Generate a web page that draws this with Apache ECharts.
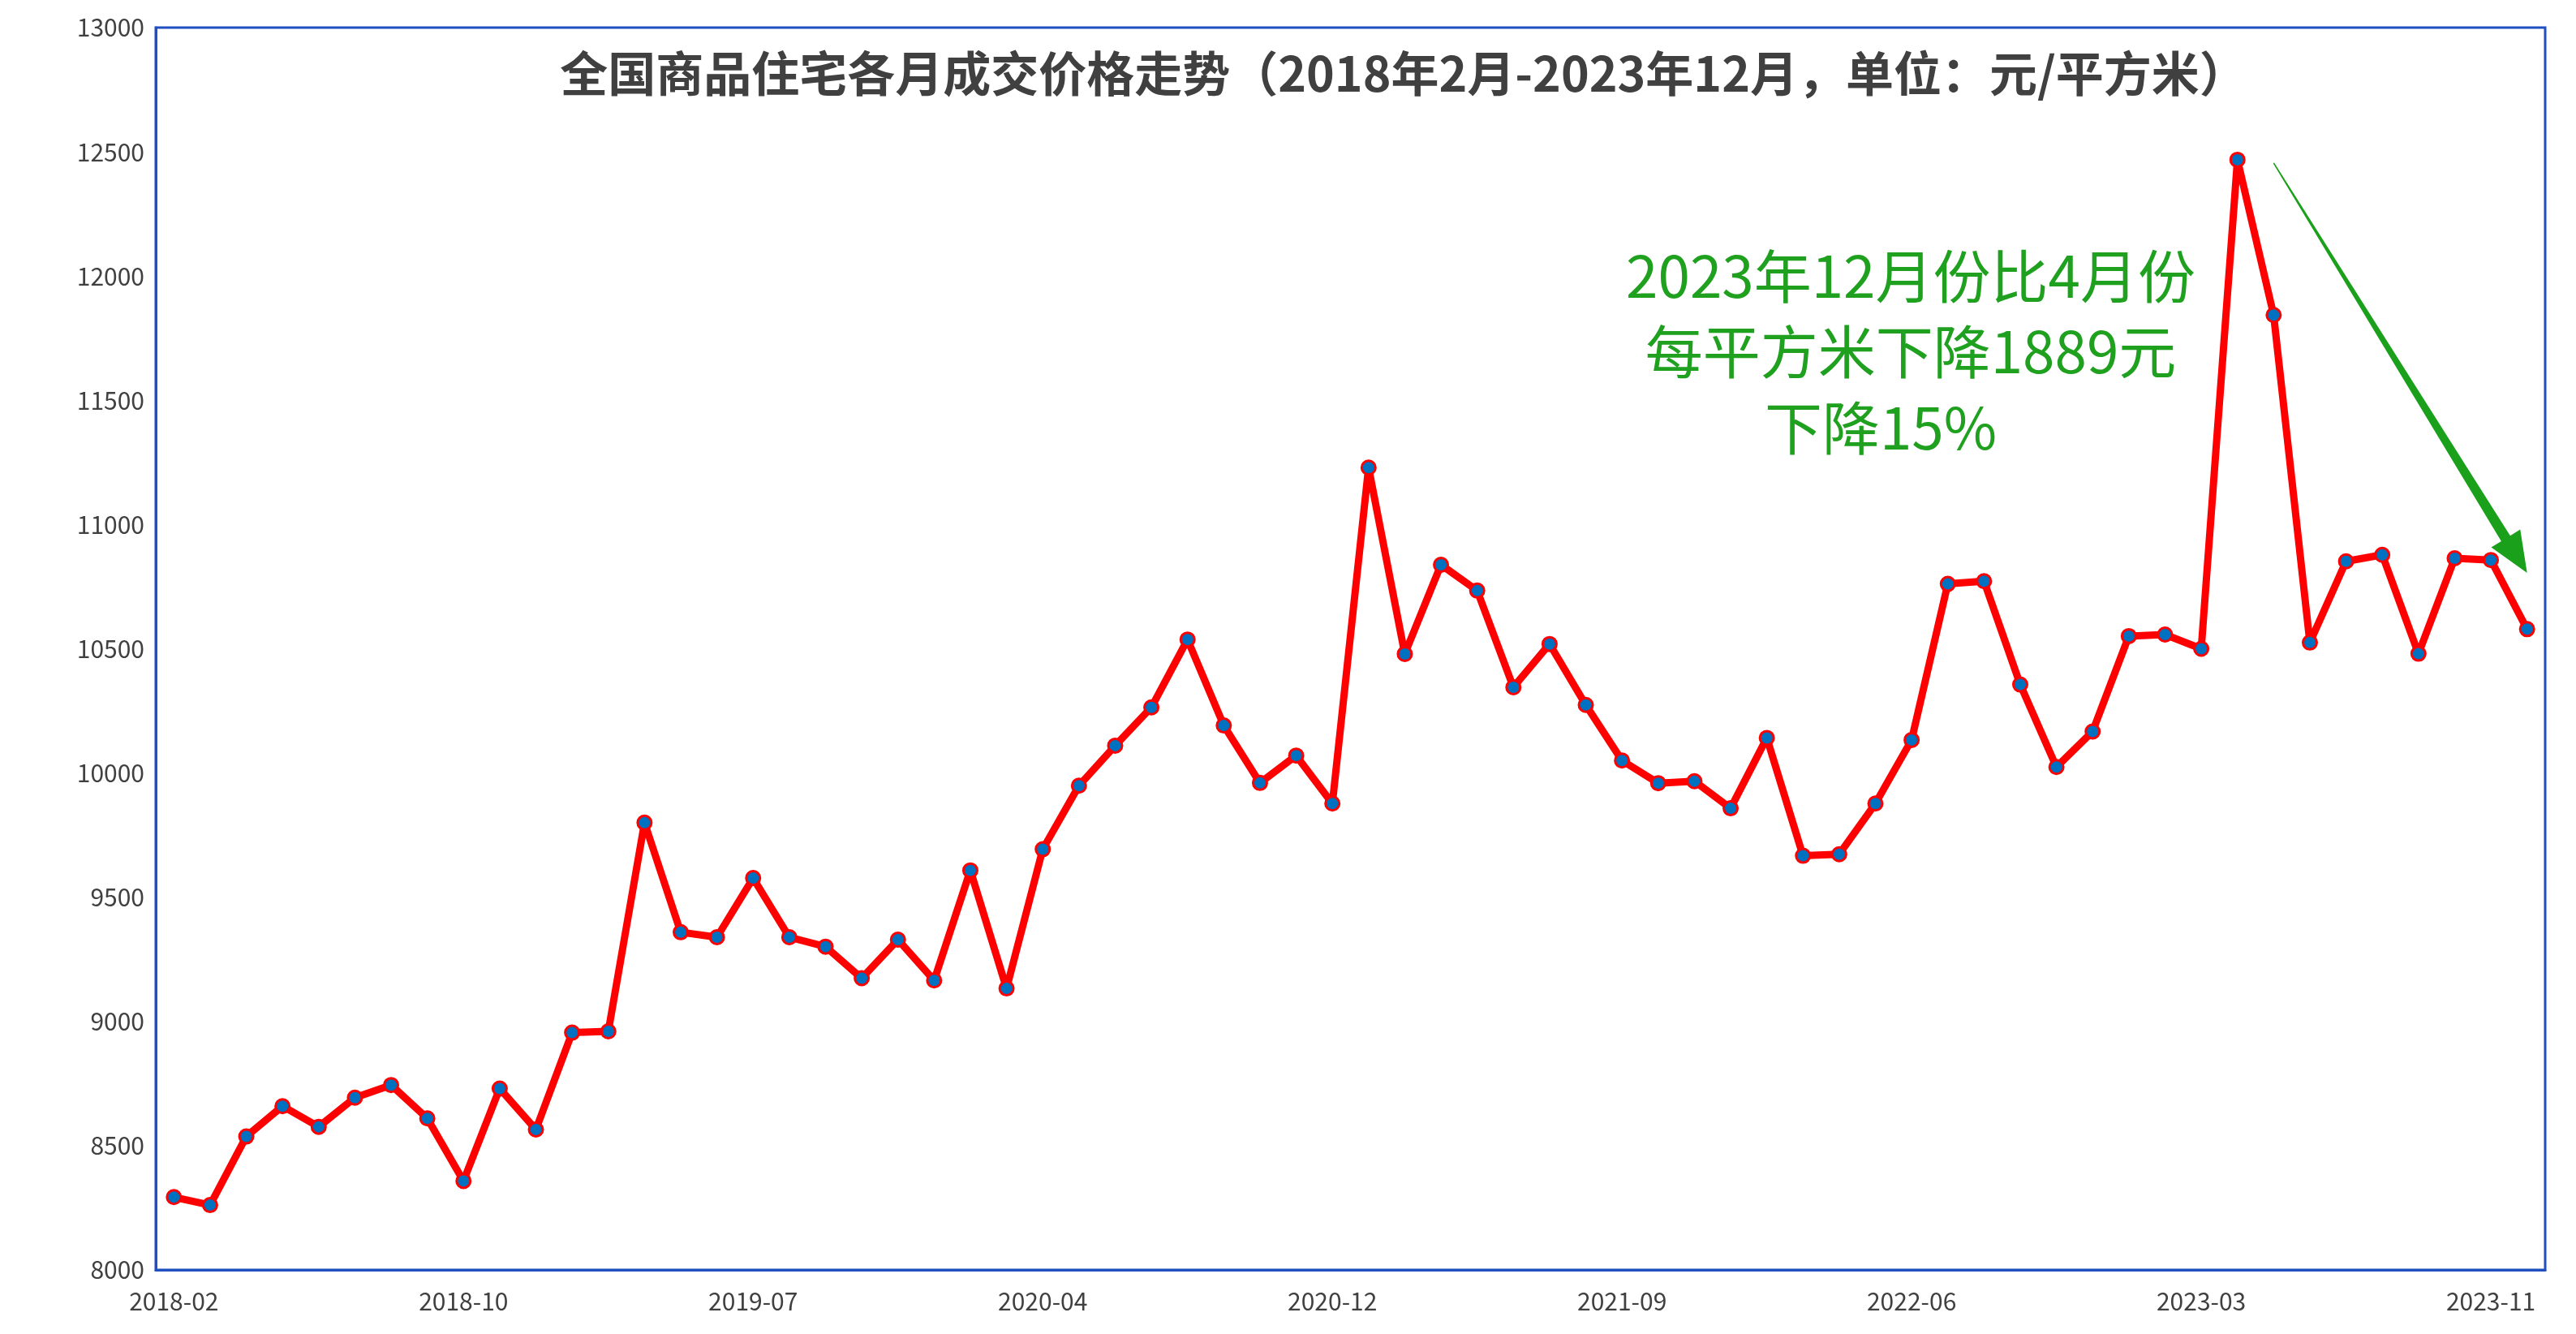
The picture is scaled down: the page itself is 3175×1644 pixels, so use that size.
<!DOCTYPE html>
<html>
<head>
<meta charset="utf-8">
<script src="https://cdn.jsdelivr.net/npm/echarts@6/dist/echarts.min.js"></script>
<style>
html,body{margin:0;padding:0;background:#fff;}
#chart{width:3175px;height:1644px;}
</style>
</head>
<body>
<div id="chart"></div>
<script>
const titleText = '全国商品住宅各月成交价格走势（2018年2月-2023年12月，单位：元/平方米）';
const noteLines = ['2023年12月份比4月份', '每平方米下降1889元', '下降15%'];

const months2018 = ['2018-02','2018-03','2018-04','2018-05','2018-06','2018-07','2018-08','2018-09','2018-10','2018-11','2018-12'];
const months2019 = ['2019-02','2019-03','2019-04','2019-05','2019-06','2019-07','2019-08','2019-09','2019-10','2019-11','2019-12'];
const months2020 = ['2020-02','2020-03','2020-04','2020-05','2020-06','2020-07','2020-08','2020-09','2020-10','2020-11','2020-12'];
const months2021 = ['2021-02','2021-03','2021-04','2021-05','2021-06','2021-07','2021-08','2021-09','2021-10','2021-11','2021-12'];
const months2022 = ['2022-02','2022-03','2022-04','2022-05','2022-06','2022-07','2022-08','2022-09','2022-10','2022-11','2022-12'];
const months2023 = ['2023-02','2023-03','2023-04','2023-05','2023-06','2023-07','2023-08','2023-09','2023-10','2023-11','2023-12'];

const price2018 = [8293, 8261, 8537, 8659, 8576, 8693, 8744, 8610, 8358, 8730, 8565];
const price2019 = [8955, 8960, 9800, 9359, 9339, 9577, 9339, 9301, 9174, 9329, 9165];
const price2020 = [9608, 9133, 9693, 9949, 10110, 10264, 10537, 10191, 9960, 10070, 9877];
const price2021 = [11229, 10479, 10838, 10734, 10345, 10519, 10274, 10050, 9959, 9967, 9858];
const price2022 = [10141, 9667, 9673, 9877, 10133, 10761, 10772, 10356, 10024, 10167, 10551];
const price2023 = [10557, 10500, 12468, 11843, 10525, 10852, 10878, 10480, 10864, 10857, 10579];

const yTicks = [8000, 8500, 9000, 9500, 10000, 10500, 11000, 11500, 12000, 12500, 13000];

const categories = [].concat(months2018, months2019, months2020, months2021, months2022, months2023);
const prices = [].concat(price2018, price2019, price2020, price2021, price2022, price2023);

// arrow anchor in data space: [category index, value]
const arrowStart = [58.25, 12455];
const arrowEnd = [65.4, 10805];

const chart = echarts.init(document.getElementById('chart'), null, {renderer: 'canvas'});
const FONT = '"Noto Sans CJK SC", "Noto Sans", sans-serif';

chart.setOption({
  animation: false,
  backgroundColor: '#ffffff',
  grid: {
    left: 192, right: 38, top: 34, bottom: 79,
    show: true, borderColor: '#1f4fc0', borderWidth: 3, backgroundColor: 'transparent'
  },
  xAxis: {
    type: 'category',
    data: categories,
    boundaryGap: true,
    axisLine: {show: true, lineStyle: {color: '#1f4fc0', width: 3}},
    axisTick: {show: false},
    axisLabel: {interval: 7, color: '#404040', fontSize: 30, fontFamily: FONT, margin: 24}
  },
  yAxis: {
    type: 'value',
    min: yTicks[0], max: yTicks[yTicks.length - 1], interval: 500,
    axisLine: {show: true, lineStyle: {color: '#1f4fc0', width: 3}},
    axisTick: {show: false},
    splitLine: {show: false},
    axisLabel: {color: '#404040', fontSize: 30, fontFamily: FONT, margin: 14,
      formatter: function (v) { return String(v); }}
  },
  series: [{
    type: 'line',
    data: prices,
    smooth: false,
    symbol: 'circle',
    symbolSize: 17,
    lineStyle: {color: '#ff0000', width: 9},
    itemStyle: {color: '#0070c0', borderColor: '#ff0000', borderWidth: 3},
    z: 3
  }]
});

function drawOverlay() {
  const p0 = chart.convertToPixel({gridIndex: 0}, arrowStart);
  const p1 = chart.convertToPixel({gridIndex: 0}, arrowEnd);
  const dx = p1[0] - p0[0], dy = p1[1] - p0[1];
  const len = Math.sqrt(dx * dx + dy * dy);
  const ux = dx / len, uy = dy / len;
  const nx = -uy, ny = ux;
  const headLen = 50, headHalf = 21, shaftStart = 0.8, shaftEnd = 6.5;
  const bx = p1[0] - ux * headLen, by = p1[1] - uy * headLen;
  const pts = [
    [p0[0] + nx * shaftStart, p0[1] + ny * shaftStart],
    [bx + nx * shaftEnd, by + ny * shaftEnd],
    [bx + nx * headHalf, by + ny * headHalf],
    [p1[0], p1[1]],
    [bx - nx * headHalf, by - ny * headHalf],
    [bx - nx * shaftEnd, by - ny * shaftEnd],
    [p0[0] - nx * shaftStart, p0[1] - ny * shaftStart]
  ];
  chart.setOption({
    graphic: [
      {
        type: 'text', z: 10, position: [1730, 91],
        style: {
          text: titleText,
          fill: '#404040', font: 'bold 59px ' + FONT,
          textAlign: 'center', textVerticalAlign: 'middle'
        }
      },
      {
        type: 'text', z: 10, position: [2355, 340],
        style: {text: noteLines[0], fill: '#1fa01f', font: '71px ' + FONT,
          textAlign: 'center', textVerticalAlign: 'middle'}
      },
      {
        type: 'text', z: 10, position: [2355, 433],
        style: {text: noteLines[1], fill: '#1fa01f', font: '71px ' + FONT,
          textAlign: 'center', textVerticalAlign: 'middle'}
      },
      {
        type: 'text', z: 10, position: [2318, 527],
        style: {text: noteLines[2], fill: '#1fa01f', font: '71px ' + FONT,
          textAlign: 'center', textVerticalAlign: 'middle'}
      },
      {
        type: 'polygon', z: 5,
        shape: {points: pts},
        style: {fill: '#1aa01a'}
      }
    ]
  });
}
drawOverlay();
</script>
</body>
</html>
